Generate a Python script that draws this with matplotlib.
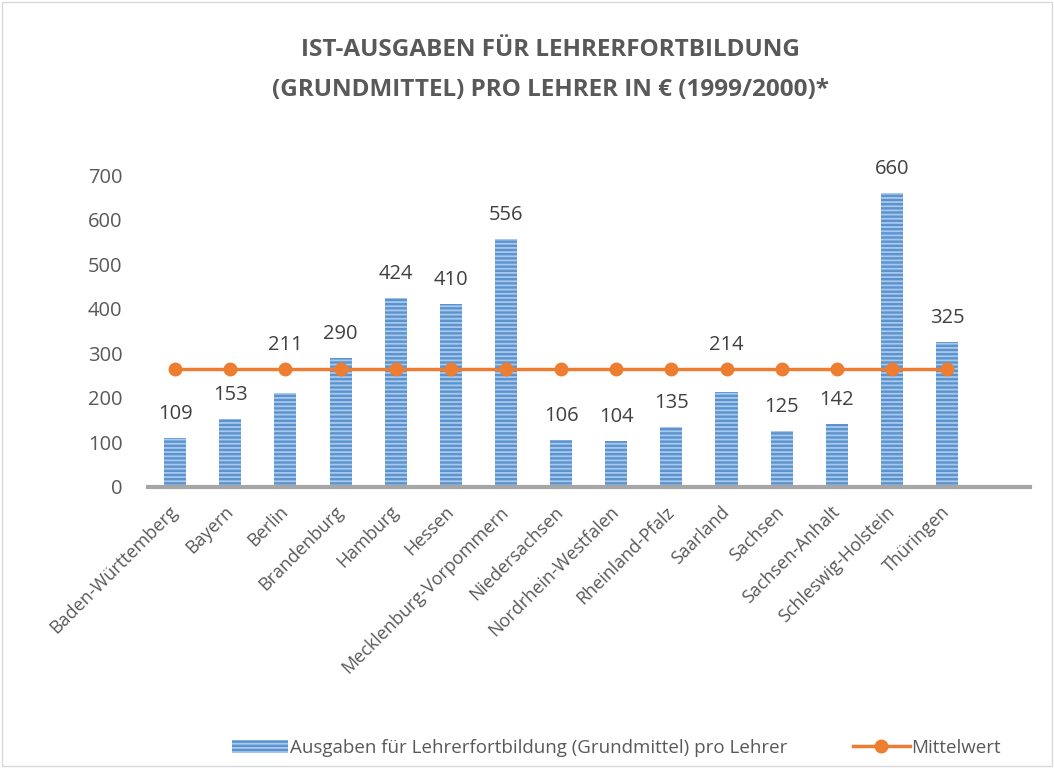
import numpy as np
import matplotlib
matplotlib.use('Agg')
import matplotlib.pyplot as plt
from matplotlib import rcParams

rcParams['font.family'] = ['Open Sans', 'DejaVu Sans']
rcParams['font.size'] = 13
rcParams['hatch.linewidth'] = 1.3

laender = ['Baden-Württemberg', 'Bayern', 'Berlin', 'Brandenburg', 'Hamburg',
           'Hessen', 'Mecklenburg-Vorpommern', 'Niedersachsen',
           'Nordrhein-Westfalen', 'Rheinland-Pfalz', 'Saarland', 'Sachsen',
           'Sachsen-Anhalt', 'Schleswig-Holstein', 'Thüringen']
ausgaben = [109, 153, 211, 290, 424, 410, 556, 106, 104, 135, 214, 125, 142,
            660, 325]
mittelwert = [264] * len(laender)

grey = '#595959'
blue = '#5b93cf'
orange = '#ed7d31'

fig = plt.figure(figsize=(10.54, 7.68), dpi=100)
ax = fig.add_axes([0.140, 0.366, 0.837, 0.406])

x = np.arange(len(laender))
bars = ax.bar(x, ausgaben, width=0.4, color=blue, edgecolor='#a8c8ec',
              linewidth=0, hatch='----',
              label='Ausgaben für Lehrerfortbildung (Grundmittel) pro Lehrer',
              zorder=2)
line, = ax.plot(x, mittelwert, color=orange, linewidth=2.5, marker='o',
                markersize=9, label='Mittelwert', zorder=3)

# labels that would sit on the mean line go above it (like Excel does)
for xi, v, m in zip(x, ausgaben, mittelwert):
    y = v
    if abs(v + 35 - m) < 45:
        y = m
    ax.annotate(str(v), (xi, y), xytext=(0, 10), textcoords='offset points',
                ha='center', va='bottom', fontsize=14.5, color='#404040',
                annotation_clip=False)

ax.set_xlim(-0.5, 15.5)
ax.set_ylim(0, 700)
ax.set_yticks(range(0, 701, 100))
ax.set_xticks(x)
ax.set_xticklabels(laender, rotation=45, ha='right', va='center',
                   rotation_mode='anchor', color=grey, fontsize=13)
ax.tick_params(axis='y', colors=grey, labelsize=14.5, length=0, pad=18)
ax.tick_params(axis='x', length=0, pad=16)

for s in ['top', 'right', 'left']:
    ax.spines[s].set_visible(False)
ax.spines['bottom'].set_color('#a6a6a6')
ax.spines['bottom'].set_linewidth(3)
ax.spines['bottom'].set_zorder(4)

fig.text(0.522, 0.935, 'IST-AUSGABEN FÜR LEHRERFORTBILDUNG',
         ha='center', va='center', fontsize=17.5, fontweight='bold', color=grey)
fig.text(0.522, 0.883, '(GRUNDMITTEL) PRO LEHRER IN € (1999/2000)*',
         ha='center', va='center', fontsize=17.5, fontweight='bold', color=grey)

leg = fig.legend([bars, line], [bars.get_label(), line.get_label()],
                 loc='center', bbox_to_anchor=(0.585, 0.026), ncol=2,
                 frameon=False, fontsize=13.5, columnspacing=3.5,
                 handlelength=3.0, handletextpad=0.1)
for t in leg.get_texts():
    t.set_color(grey)

fig.patches.append(plt.Rectangle((0.002, 0.002), 0.996, 0.996,
                                 transform=fig.transFigure, fill=False,
                                 edgecolor='#d9d9d9', linewidth=1))

fig.savefig('out.png', dpi=100)
